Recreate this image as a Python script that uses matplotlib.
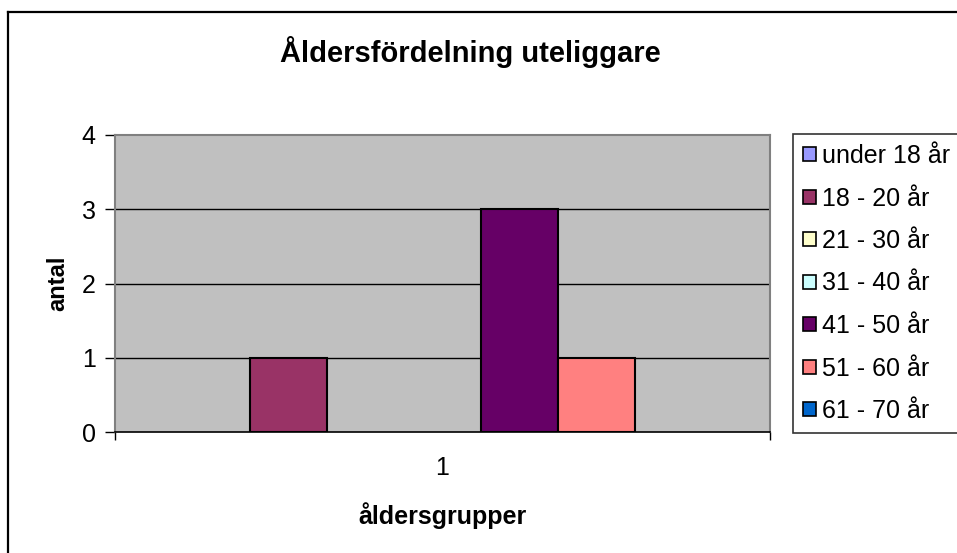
import matplotlib
matplotlib.use("Agg")
import matplotlib.pyplot as plt
from matplotlib.lines import Line2D
from matplotlib.patches import Patch

plt.rcParams["font.family"] = ["Liberation Sans", "DejaVu Sans"]

# data
series = ["under 18 år", "18 - 20 år", "21 - 30 år", "31 - 40 år",
          "41 - 50 år", "51 - 60 år", "61 - 70 år"]
values = [0, 1, 0, 0, 3, 1, 0]
colors = ["#9999FF", "#993366", "#FFFFCC", "#CCFFFF", "#660066", "#FF8080", "#0066CC"]
category = "1"
yticks = [0, 1, 2, 3, 4]

W, H = 957, 553
fig = plt.figure(figsize=(W / 100, H / 100), dpi=100)
fig.patch.set_facecolor("white")

# plot area in pixels: x 115..770, y 135..432
ax = fig.add_axes([115 / W, 1 - 432 / H, 655 / W, 297 / H])
ax.set_facecolor("#C0C0C0")

n = len(series)
w = 0.1176
x0 = 0.5
for i, (v, c) in enumerate(zip(values, colors)):
    if v > 0:
        ax.bar(x0 + (i - (n - 1) / 2) * w, v, w, color=c, edgecolor="black",
               linewidth=1.5, zorder=3)

ax.set_xlim(0, 1)
ax.set_ylim(0, 4)
ax.set_yticks(yticks)
ax.set_yticklabels([str(t) for t in yticks], fontsize=18)
ax.tick_params(axis="y", length=7, width=1, pad=7, colors="black", direction="out")
for t in yticks[1:4]:
    ax.axhline(t, color="black", lw=1, zorder=1)

ax.set_xticks([0, 1])
ax.set_xticklabels(["", ""])
ax.set_xticks([x0], minor=True)
ax.set_xticklabels([category], minor=True, fontsize=18)
ax.tick_params(axis="x", which="major", length=6, width=1, direction="out")
ax.tick_params(axis="x", which="minor", length=0, pad=17)

for s in ["top", "right", "left"]:
    ax.spines[s].set_color("#808080")
    ax.spines[s].set_linewidth(1.5)
ax.spines["bottom"].set_color("black")
ax.spines["bottom"].set_linewidth(1.2)
ax.spines["bottom"].set_zorder(4)

ax.set_ylabel("antal", fontsize=17, fontweight="bold", labelpad=9)
ax.set_xlabel("åldersgrupper", fontsize=18, fontweight="bold", labelpad=16)

fig.text(470 / W, 1 - 62 / H, "Åldersfördelning uteliggare", ha="center", va="baseline",
         fontsize=21, fontweight="bold")

handles = [Patch(facecolor=c, edgecolor="black", linewidth=1.2) for c in colors]
leg = fig.legend(handles, series, loc="upper left",
                 bbox_to_anchor=(793 / W, 1 - 134 / H), bbox_transform=fig.transFigure,
                 fontsize=18, frameon=True, fancybox=False, edgecolor="black",
                 handlelength=0.5, handleheight=0.5, handletextpad=0.25,
                 labelspacing=0.74, borderpad=0.4, borderaxespad=0)
leg.get_frame().set_linewidth(1.2)

# outer chart frame (top and left edges visible)
fig.add_artist(Line2D([8 / W, 1], [1 - 12 / H, 1 - 12 / H], color="black", lw=1.6,
                      transform=fig.transFigure))
fig.add_artist(Line2D([8 / W, 8 / W], [0, 1 - 12 / H], color="black", lw=1.6,
                      transform=fig.transFigure))

fig.savefig("out.png", dpi=100)
